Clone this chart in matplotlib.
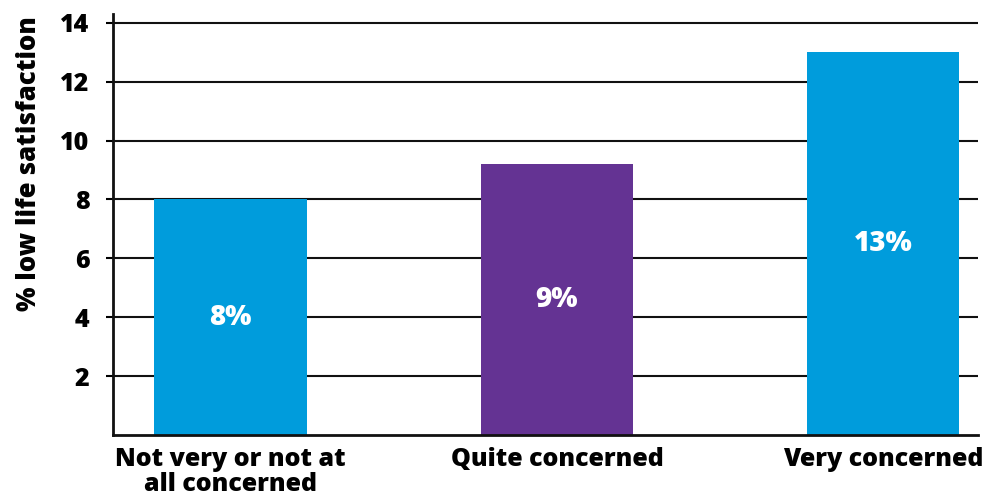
import matplotlib.pyplot as plt
import numpy as np

# data
categories = ['Not very or not at\nall concerned', 'Quite concerned', 'Very concerned']
values = [8.0, 9.2, 13.0]
value_labels = ['8%', '9%', '13%']
colors = ['#009cdc', '#643393', '#009cdc']
yticks = [2, 4, 6, 8, 10, 12, 14]

plt.rcParams['font.family'] = ['Open Sans', 'DejaVu Sans']
FS = 18

fig = plt.figure(figsize=(9.83, 4.99), dpi=100)
ax = fig.add_axes([113 / 983, (499 - 435) / 499, (978 - 113) / 983, (435 - 14) / 499])

x = np.arange(len(categories))
ax.set_axisbelow(True)
ax.grid(axis='y', color='#111111', linewidth=1.5)
ax.bar(x, values, width=0.466, color=colors, zorder=2)

for xi, v, lab in zip(x, values, value_labels):
    ax.text(xi, v / 2, lab, color='white', ha='center', va='center',
            fontsize=20, fontweight='heavy', zorder=3)

ax.set_xlim(-0.36, 2.29)
ax.set_ylim(0, 14.3)
ax.set_yticks(yticks)
ax.set_yticklabels([str(t) for t in yticks], fontsize=FS, fontweight='heavy')
ax.set_xticks(x)
ax.set_xticklabels(categories, fontsize=FS, fontweight='heavy', linespacing=0.95)
ax.tick_params(axis='x', length=0, pad=9)
ax.tick_params(axis='y', length=5, width=1.5, pad=12)
ax.set_ylabel('% low life satisfaction', fontsize=18.5, fontweight='heavy')
ax.yaxis.set_label_coords(-0.082, 0.645)

for side in ['top', 'right']:
    ax.spines[side].set_visible(False)
for side in ['left', 'bottom']:
    ax.spines[side].set_linewidth(2)
    ax.spines[side].set_color('#111111')

fig.savefig('out.png', dpi=100)
